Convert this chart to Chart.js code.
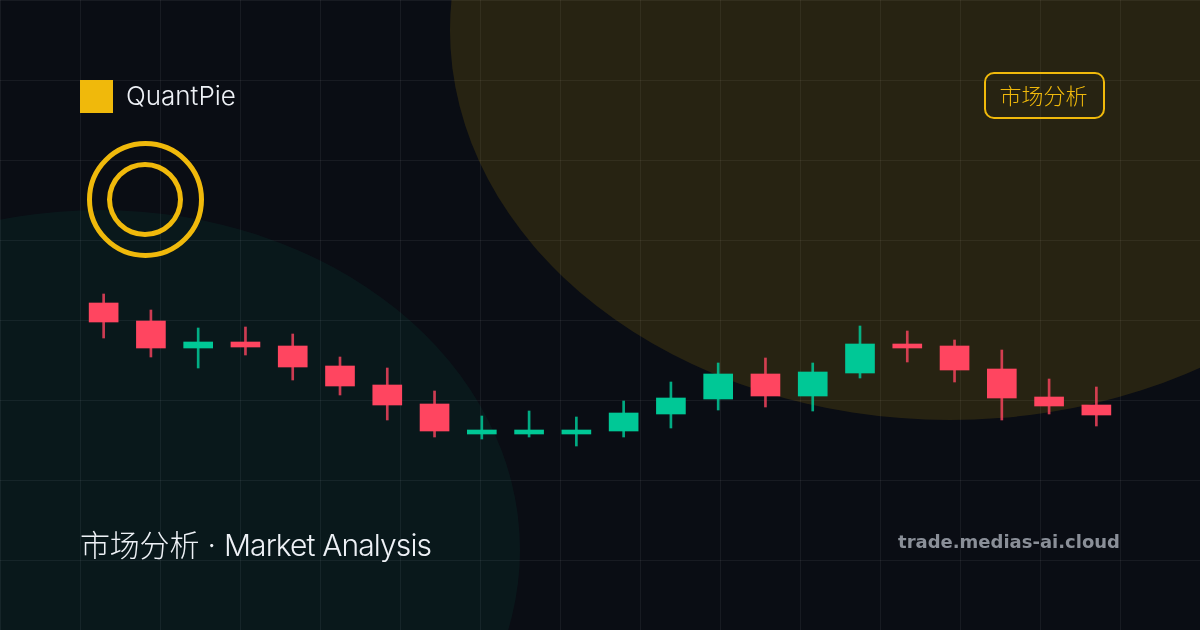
<!DOCTYPE html>
<html lang="zh">
<head>
<meta charset="utf-8">
<title>QuantPie</title>
<script src="https://cdn.jsdelivr.net/npm/chart.js@4"></script>
<style>
html, body { margin: 0; padding: 0; background: #0a0d14; }
#card { position: relative; width: 1200px; height: 630px; overflow: hidden; background: #0a0d14; font-family: Inter, "Noto Sans CJK SC", sans-serif; }
.blob { position: absolute; border-radius: 50%; }
#blob-gold { left: 450px; top: -360px; width: 1000px; height: 780px; background: rgba(240,185,11,0.13); }
#blob-teal { left: -320px; top: 210px; width: 840px; height: 680px; background: rgba(0,200,150,0.06); }
#grid { position: absolute; inset: 0;
  background-image: linear-gradient(to right, rgba(255,255,255,0.06) 1px, transparent 1px),
                    linear-gradient(to bottom, rgba(255,255,255,0.06) 1px, transparent 1px);
  background-size: 80px 80px; }
canvas { position: absolute; left: 0; top: 0; }
#logo { position: absolute; left: 80px; top: 80px; width: 33px; height: 33px; background: #f0b90b; }
#brand { position: absolute; left: 126px; top: 79px; font-size: 26px; line-height: 33px; font-weight: 300; color: #eef1f6; }
.ring { position: absolute; box-sizing: border-box; border-radius: 50%; border: 5px solid #f0b90b; }
#ring-outer { left: 87px; top: 141px; width: 117px; height: 117px; }
#ring-inner { left: 107px; top: 162px; width: 76px; height: 75px; }
#badge { position: absolute; left: 984px; top: 72px; width: 121px; height: 47px; box-sizing: border-box; border: 2px solid #f0b90b; border-radius: 10px; color: #f0b90b; font-size: 22px; line-height: 40px; text-align: center; padding-right: 2px; font-family: "Noto Sans CJK SC", sans-serif; font-weight: 300; }
#title { position: absolute; left: 80px; top: 525px; font-size: 30px; line-height: 40px; font-weight: 300; letter-spacing: -0.2px; color: #eef1f6; white-space: nowrap; }
#title span { letter-spacing: -0.9px; }
#site { position: absolute; right: 80px; top: 529px; font-family: "DejaVu Sans", sans-serif; font-weight: 700; font-size: 18px; line-height: 26px; color: #8a8f98; white-space: nowrap; }
</style>
</head>
<body>
<div id="card">
  <div id="grid"></div>
  <div id="blob-gold" class="blob"></div>
  <div id="blob-teal" class="blob"></div>
  <canvas id="chart" width="1200" height="630"></canvas>
  <div id="logo"></div>
  <div id="brand">QuantPie</div>
  <div id="ring-outer" class="ring"></div>
  <div id="ring-inner" class="ring"></div>
  <div id="badge">市场分析</div>
  <div id="title">市场分析 · <span>Market Analysis</span></div>
  <div id="site">trade.medias-ai.cloud</div>
</div>
<script>
// Values
const sessions = ["1","2","3","4","5","6","7","8","9","10","11","12","13","14","15","16","17","18","19","20","21","22"];
const opens  = [2163.5,2154.5,2141,2144,2142,2132,2122.5,2113,2098,2098,2098,2099.5,2108,2115.5,2128,2117,2128.5,2143,2142,2130.5,2116.5,2112.5];
const closes = [2154,2141,2144,2141.5,2131.5,2122,2112.5,2099.5,2100,2100,2100,2108.5,2116,2128,2117,2129,2143,2141,2130,2116,2112,2107.5];
const highs  = [2168,2160,2151,2151.5,2148,2136.5,2131,2119.5,2107,2109.5,2106.5,2114.5,2124,2133.5,2136,2133.5,2152,2149.5,2145,2140,2125.5,2121.5];
const lows   = [2146,2136.5,2131,2137.5,2125,2117.5,2105,2096.5,2095.5,2096.5,2092,2096.5,2101,2110,2111.5,2109.5,2126,2134,2124,2105,2108,2102];

const upColor = "#00c896";
const downColor = "#ff4560";
const upWick = "rgba(0,200,150,0.85)";
const downWick = "rgba(255,69,96,0.8)";

const bodies = sessions.map((s, i) => [opens[i], closes[i]]);
const wicks = sessions.map((s, i) => [lows[i], highs[i]]);
const isUp = sessions.map((s, i) => closes[i] > opens[i]);

new Chart(document.getElementById("chart").getContext("2d"), {
  type: "bar",
  data: {
    labels: sessions,
    datasets: [
      {
        label: "body",
        data: bodies,
        order: 1,
        barThickness: 29,
        backgroundColor: isUp.map(up => up ? upColor : downColor)
      },
      {
        label: "wick",
        data: wicks,
        order: 2,
        barThickness: 2,
        backgroundColor: isUp.map(up => up ? upWick : downWick)
      }
    ]
  },
  options: {
    responsive: false,
    animation: false,
    layout: { padding: { left: 80, right: 80, top: 0, bottom: 0 } },
    plugins: { legend: { display: false }, tooltip: { enabled: false } },
    scales: {
      x: { display: false, grid: { display: false } },
      y: { display: false, min: 2000, max: 2315, grid: { display: false } }
    },
    datasets: { bar: { grouped: false } }
  }
});
</script>
</body>
</html>
